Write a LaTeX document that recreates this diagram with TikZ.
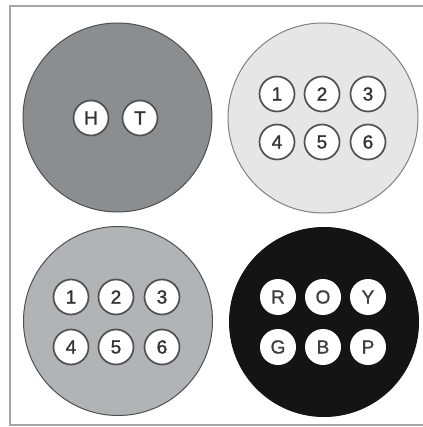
\documentclass[tikz,border=0pt]{standalone}
\usepackage{fontspec}
\setmainfont{Liberation Sans}
\newfontfamily\ballfont[FakeBold=1.3]{Liberation Sans}
\definecolor{cA}{HTML}{8B8E91}
\definecolor{cB}{HTML}{E6E6E6}
\definecolor{cC}{HTML}{B1B3B6}
\definecolor{cD}{HTML}{141414}
\definecolor{edge}{HTML}{505050}
\begin{document}
\begin{tikzpicture}[x=1pt,y=-1pt,
  big/.style={circle,draw=edge,line width=1pt,minimum size=#1,inner sep=0pt},
  ball/.style={circle,draw=edge,line width=1.7pt,fill=white,minimum size=35pt,inner sep=0pt,font=\ballfont\fontsize{19}{19}\selectfont,text=black!80},
  wball/.style={circle,fill=white,minimum size=36pt,inner sep=0pt,font=\ballfont\fontsize{19}{19}\selectfont,text=black!75}]
\useasboundingbox (0,0) rectangle (422,427);
\fill[white] (0,0) rectangle (422,427);
\draw[gray!70,line width=1.5pt] (10,6) rectangle (440,425);
% big circles
\node[big=189pt,fill=cA] (c1) at (117.5,117.5) {};
\node[big=190pt,fill=cB,draw=gray] (c2) at (323,118) {};
\node[big=189pt,fill=cC] (c3) at (118,321) {};
\node[big=189pt,fill=cD,draw=cD] (c4) at (324,322) {};
% top-left
\node[ball] (h) at (91,118) {H};
\node[ball] (t) at (140,118) {T};
% top-right
\node[ball] (a1) at (277,94) {1};
\node[ball] (a2) at (322,94) {2};
\node[ball] (a3) at (368,94) {3};
\node[ball] (a4) at (277,142) {4};
\node[ball] (a5) at (322,142) {5};
\node[ball] (a6) at (368,142) {6};
% bottom-left
\node[ball] (b1) at (71,297) {1};
\node[ball] (b2) at (116,297) {2};
\node[ball] (b3) at (162,297) {3};
\node[ball] (b4) at (71,347) {4};
\node[ball] (b5) at (116,347) {5};
\node[ball] (b6) at (162,347) {6};
% bottom-right
\node[wball] (r) at (278,297) {R};
\node[wball] (o) at (323,297) {O};
\node[wball] (y) at (368,297) {Y};
\node[wball] (g) at (278,347) {G};
\node[wball] (bb) at (323,347) {B};
\node[wball] (p) at (368,347) {P};
\end{tikzpicture}
\end{document}
